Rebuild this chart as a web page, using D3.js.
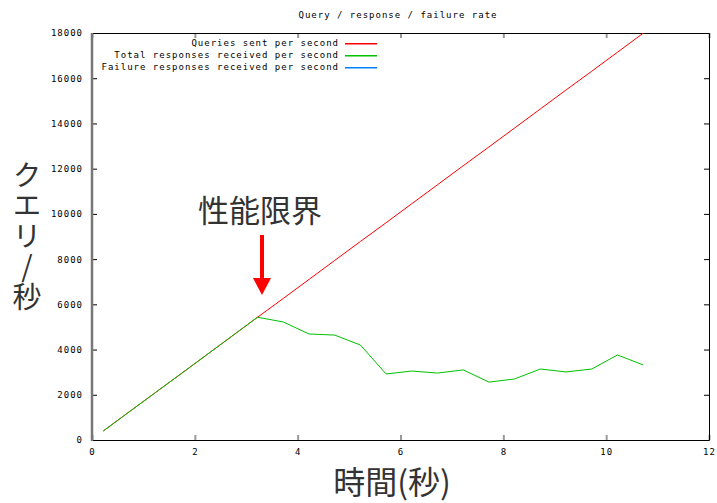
<!DOCTYPE html>
<html>
<head>
<meta charset="utf-8">
<script src="https://cdn.jsdelivr.net/npm/d3@7"></script>
<style>
  body { margin: 0; background: #fff; }
  svg { display: block; }
  .small { font-family: "DejaVu Sans Mono", monospace; font-size: 9px; letter-spacing: 1px; fill: #000; }
  .jp { font-family: "Noto Sans CJK JP", sans-serif; fill: #333; }
</style>
</head>
<body>
<svg id="chart" width="717" height="503"></svg>
<script>
// time (s) of each sample
var times = [0.22, 0.72, 1.22, 1.72, 2.22, 2.72, 3.22, 3.72, 4.22, 4.72, 5.22,
             5.72, 6.22, 6.72, 7.22, 7.72, 8.22, 8.72, 9.22, 9.72, 10.22, 10.72]
var sent = [400, 1240, 2075, 2910, 3750, 4590, 5430, 6260, 7100, 7940, 8780,
            9610, 10450, 11290, 12130, 12960, 13800, 14640, 15480, 16310, 17150, 17990]
var received = [400, 1240, 2075, 2910, 3750, 4590, 5430, 5220, 4690, 4640, 4200,
                2920, 3050, 2960, 3100, 2560, 2700, 3140, 3010, 3140, 3760, 3320]
var failures = []

var seriesNames = ['Queries sent per second', 'Total responses received per second', 'Failure responses received per second']
var seriesColors = ['#ff0000', '#00c000', '#0080ff']
var xTicks = [0, 2, 4, 6, 8, 10, 12]
var yTicks = [0, 2000, 4000, 6000, 8000, 10000, 12000, 14000, 16000, 18000]

var svg = d3.select('#chart')
var pLeft = 92, pRight = 709, pTop = 33, pBottom = 440

var x = d3.scaleLinear().domain([0, 12]).range([pLeft, pRight])
var y = d3.scaleLinear().domain([0, 18000]).range([pBottom, pTop])

// title
svg.append('text').attr('class', 'small')
    .attr('x', 398).attr('y', 18).attr('text-anchor', 'middle')
    .text('Query / response / failure rate')

// axes with inward ticks
var gx = svg.append('g').attr('transform', 'translate(0,' + pBottom + ')')
    .call(d3.axisBottom(x).tickValues(xTicks).tickSize(-5).tickPadding(9).tickFormat(d3.format('d')))
var gy = svg.append('g').attr('transform', 'translate(' + pLeft + ',0)')
    .call(d3.axisLeft(y).tickValues(yTicks).tickSize(-5).tickPadding(9).tickFormat(d3.format('d')))
var gt = svg.append('g').attr('transform', 'translate(0,' + pTop + ')')
    .call(d3.axisTop(x).tickValues(xTicks).tickSize(-5).tickFormat(''))
var gr = svg.append('g').attr('transform', 'translate(' + pRight + ',0)')
    .call(d3.axisRight(y).tickValues(yTicks).tickSize(-5).tickFormat(''))

;[gx, gy, gt, gr].forEach(function(g) {
    g.select('.domain').remove()
    g.selectAll('text').attr('class', 'small').attr('fill', null)
})
gx.selectAll('.tick line').attr('stroke', '#999').attr('stroke-width', 2)
gt.selectAll('.tick line').attr('stroke', '#999').attr('stroke-width', 2)
gy.selectAll('.tick line').attr('stroke', '#000')
gr.selectAll('.tick line').attr('stroke', '#000')

// frame
svg.append('path')
    .attr('d', 'M' + pLeft + ',' + (pTop + 0.5) + 'H' + (pRight + 0.5) + 'V' + (pBottom + 0.5) + 'H' + pLeft)
    .attr('fill', 'none').attr('stroke', '#000').attr('stroke-width', 1)
svg.append('line')
    .attr('x1', pLeft).attr('x2', pLeft).attr('y1', pTop).attr('y2', pBottom + 1)
    .attr('stroke', '#777').attr('stroke-width', 2.5)

// lines
var line = d3.line()
    .x(function(d) { return x(d[0]) })
    .y(function(d) { return y(d[1]) })

var clip = svg.append('clipPath').attr('id', 'clip')
clip.append('rect').attr('x', pLeft).attr('y', pTop).attr('width', pRight - pLeft).attr('height', pBottom - pTop)

var plotData = [sent, received, failures].map(function(vals) {
    return vals.map(function(v, i) { return [times[i], v] })
})
svg.append('g').attr('clip-path', 'url(#clip)')
    .selectAll('path').data(plotData).enter()
    .append('path')
    .attr('d', function(d) { return line(d) })
    .attr('fill', 'none')
    .attr('stroke', function(d, i) { return seriesColors[i] })
    .attr('stroke-width', 1)

// legend
var lg = svg.append('g')
seriesNames.forEach(function(name, i) {
    var ly = 43 + i * 12
    lg.append('text').attr('class', 'small')
        .attr('x', 339).attr('y', ly + 3).attr('text-anchor', 'end')
        .text(name)
    lg.append('rect')
        .attr('x', 345).attr('y', ly).attr('width', 32).attr('height', 1.5)
        .attr('fill', seriesColors[i])
})

// axis titles
svg.append('text').attr('class', 'jp')
    .attr('x', 392).attr('y', 494).attr('text-anchor', 'middle')
    .style('font-size', '32px')
    .text('時間(秒)')

svg.append('text').attr('class', 'jp')
    .attr('x', 27).attr('y', 160)
    .style('writing-mode', 'vertical-rl')
    .style('text-orientation', 'upright')
    .style('font-size', '29px')
    .style('letter-spacing', '1.5px')
    .text('クエリ/秒')

// annotation
svg.append('text').attr('class', 'jp')
    .attr('x', 260).attr('y', 222).attr('text-anchor', 'middle')
    .style('font-size', '31px')
    .text('性能限界')

var ax = 262
svg.append('line')
    .attr('x1', ax).attr('x2', ax).attr('y1', 235).attr('y2', 280)
    .attr('stroke', '#ff0000').attr('stroke-width', 4)
svg.append('path')
    .attr('d', 'M' + (ax - 9) + ',278L' + (ax + 9) + ',278L' + ax + ',295Z')
    .attr('fill', '#ff0000')
</script>
</body>
</html>
